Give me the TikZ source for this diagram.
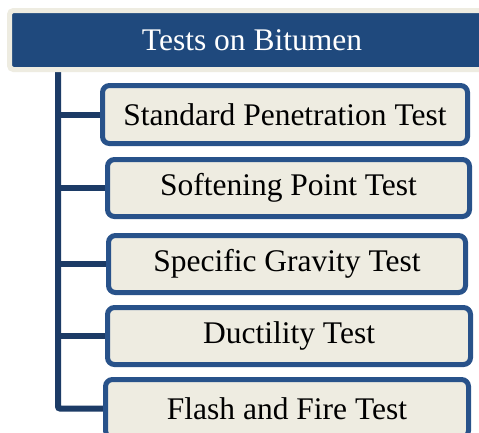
\documentclass[tikz,border=0pt]{standalone}
\usepackage{fontspec}
\setmainfont{Liberation Serif}
\usetikzlibrary{backgrounds}
\definecolor{hdrblue}{HTML}{1F497D}
\definecolor{hdrrim}{HTML}{EEECE1}
\definecolor{boxrim}{HTML}{28528A}
\definecolor{boxfill}{HTML}{EEECE1}
\definecolor{trunkc}{HTML}{1C3B66}
\tikzset{
  header/.style={draw=hdrrim, fill=hdrblue, line width=5pt, rounded corners=4pt,
    text=white, inner sep=0pt, font=\fontsize{31.5}{36}\selectfont},
  testbox/.style={draw=boxrim, fill=boxfill, line width=5pt, rounded corners=7pt,
    text=black, inner sep=0pt, minimum height=57pt, font=\fontsize{31.5}{36}\selectfont},
  branch/.style={draw=trunkc, line width=6pt, rounded corners=2pt}
}
\begin{document}
\begin{tikzpicture}[x=1pt,y=-1pt]
\useasboundingbox (0,0) rectangle (479,432);
\clip (0,0) rectangle (479,432);
\node[header, minimum width=485pt, minimum height=59pt] (hdr) at (252,40) {Tests on Bitumen};
\coordinate (top) at (58,70);
\node[testbox, minimum width=365pt, minimum height=58pt] (b1) at (285,114.5) {Standard Penetration Test};
\node[testbox, minimum width=362pt] (b2) at (288.5,188) {Softening Point Test};
\node[testbox, minimum width=357pt] (b3) at (287,264) {Specific Gravity Test};
\node[testbox, minimum width=363pt] (b4) at (289,336) {Ductility Test};
\node[testbox, minimum width=363pt, minimum height=58pt] (b5) at (287,408.5) {Flash and Fire Test};
\begin{scope}[on background layer]
\fill[white] (0,0) rectangle (479,432);
\draw[branch] (top) |- (b5.center);
\draw[branch] (top |- b1.center) -- (b1.center);
\draw[branch] (top |- b2.center) -- (b2.center);
\draw[branch] (top |- b3.center) -- (b3.center);
\draw[branch] (top |- b4.center) -- (b4.center);
\end{scope}
\end{tikzpicture}
\end{document}
